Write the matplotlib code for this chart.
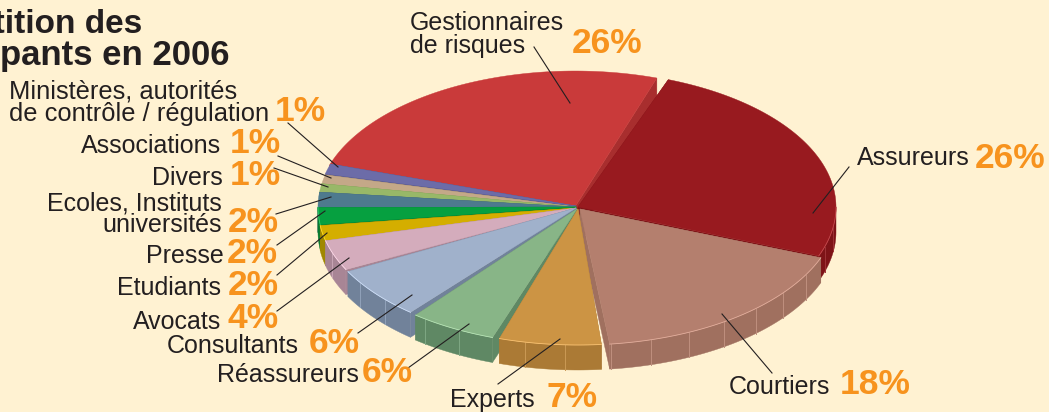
import numpy as np
import matplotlib
matplotlib.use("Agg")
import matplotlib.pyplot as plt
from matplotlib.patches import Polygon
from matplotlib.colors import to_rgb

plt.rcParams['font.family'] = ['Liberation Sans', 'DejaVu Sans']

categories = ["Assureurs", "Courtiers", "Experts", "Réassureurs", "Consultants", "Avocats",
              "Etudiants", "Presse", "Ecoles, Instituts universités", "Divers", "Associations",
              "Ministères, autorités de contrôle / régulation", "Gestionnaires de risques"]
printed_pct = [26, 18, 7, 6, 6, 4, 2, 2, 2, 1, 1, 1, 26]
wedge_shares = [25.4, 17.5, 6.75, 5.8, 6.6, 3.6, 1.8, 2.0, 1.8, 1.0, 1.05, 1.2, 25.4]
top_colors = ["#981A1F", "#B47F6E", "#CC9444", "#88B587", "#A0B1CB", "#D4ACBC", "#D4AE00",
              "#06A040", "#4E7A8E", "#98B868", "#C4A888", "#6C6CA8", "#C93A3A"]
side_colors = ["#7E1317", "#A0705F", "#AB7A35", "#5F8864", "#71829A", "#A88595", "#A08800",
               "#047A30", "#3C6070", "#7A9650", "#A08868", "#525288", "#A82E2E"]
offsets = [(0, 0), (2, 2), (0, 2), (-1, 2), (-2, 1), (-2, 1), (-2, 1), (-2, 0), (-2, 0),
           (-2, 0), (-2, 0), (-2, -1), (-3, 0)]
# angular inset of each wedge's (leading, trailing) edge: the gaps between the pieces
insets = [(1.0, 0), (0, 0.7), (0.7, 0.7), (0.7, 0.6), (0.6, 1.0), (0, 0), (0, 0), (0, 0), (0, 0),
          (0, 0), (0, 0), (0, 0), (0, 1.0)]

BG, INK, ORANGE = "#FFF2D2", "#231F20", "#F7931E"
CX, CY, RX, RY, DEPTH = 578, 207, 258, 136, 25
START = 70.5

fig = plt.figure(figsize=(10.49, 4.12), dpi=100, facecolor=BG)
ax = fig.add_axes([0, 0, 1, 1])
ax.set_xlim(0, 1049); ax.set_ylim(412, 0); ax.axis("off")

def pt(a, off, d=0):
    r = np.radians(a)
    return CX + off[0] + RX * np.cos(r), CY + off[1] - RY * np.sin(r) + d

def arc(a0, a1, off, d=0):
    n = max(2, int(abs(a1 - a0)) + 2)
    ang = np.linspace(a0, a1, n)
    return [pt(a, off, d) for a in ang]

spans = np.array(wedge_shares) / sum(wedge_shares) * 360
ends = START - np.cumsum(spans)
starts = ends + spans
mids = (starts + ends) / 2
order = np.argsort(-np.sin(np.radians(mids)))

for i in order:
    a0, a1, off = starts[i] - insets[i][0], ends[i] + insets[i][1], offsets[i]
    apex = (CX + off[0], CY + off[1])
    apex_d = (apex[0], apex[1] + DEPTH)
    side = side_colors[i]
    # radial cut faces
    for a in (a0, a1):
        e = pt(a, off); e_d = pt(a, off, DEPTH)
        ax.add_patch(Polygon([apex, e, e_d, apex_d], closed=True, fc=side, ec=side, lw=0.3, zorder=2))
    # outer wall: only the part that faces the viewer
    lo, hi = a1, a0
    ranges = []
    for k in (0, -360):
        l, h = max(lo, -180 + k), min(hi, 0 + k)
        if h > l:
            ranges.append((h, l))
    for h, l in ranges:
        wall = arc(h, l, off) + arc(l, h, off, DEPTH)
        ax.add_patch(Polygon(wall, closed=True, fc=side, ec=side, lw=0.3, zorder=2))
        rib_col = tuple(min(1, c + 0.12) for c in to_rgb(side))
        for a in np.arange(h - 8, l, -9):
            (x0, y0), (x1, y1) = pt(a, off), pt(a, off, DEPTH)
            ax.plot([x0, x1], [y0, y1], color=rib_col, lw=0.7, zorder=2)
    # top face
    top = [apex] + arc(a0, a1, off)
    ax.add_patch(Polygon(top, closed=True, fc=top_colors[i], ec=top_colors[i], lw=0.3, zorder=2))
    rim = tuple(min(1, c + 0.18) for c in to_rgb(top_colors[i]))
    for h, l in ranges:
        xy = np.array(arc(h, l, off))
        ax.plot(xy[:, 0], xy[:, 1], color=rim, lw=0.6, zorder=2)

# Title (its left part runs off the page in the source)
ax.text(142, 33, "Répartition des", ha="right", va="baseline", fontsize=24,
        fontweight="bold", color=INK, zorder=5)
ax.text(229, 65, "participants en 2006", ha="right", va="baseline", fontsize=25,
        fontweight="bold", color=INK, zorder=5)

LS, PS = 18, 25.5
def label(x, y, s, ha="left", size=LS, sp=1.2):
    ax.text(x, y, s, ha=ha, va="baseline", multialignment=ha, fontsize=size, color=INK,
            linespacing=sp, zorder=5)
def pct(x, y, v):
    ax.text(x, y, f"{v}%", ha="left", va="baseline", fontsize=PS, fontweight="bold",
            color=ORANGE, zorder=5)

label(410, 53, "Gestionnaires\nde risques", sp=0.94); pct(572, 53, printed_pct[12])
label(857, 165, "Assureurs"); pct(975, 168, printed_pct[0])
label(729, 394, "Courtiers"); pct(840, 394, printed_pct[1])
label(450, 407, "Experts"); pct(546, 407, printed_pct[2])
label(217, 382, "Réassureurs"); pct(362, 382, printed_pct[3])
label(167, 353, "Consultants"); pct(309, 353, printed_pct[4])
label(133, 329, "Avocats"); pct(228, 328, printed_pct[5])
label(117, 295, "Etudiants"); pct(228, 295, printed_pct[6])
label(146, 263, "Presse"); pct(227, 263, printed_pct[7])
label(222, 232, "Ecoles, Instituts\nuniversités", ha="right", sp=0.89); pct(228, 232, printed_pct[8])
label(152, 185, "Divers"); pct(230, 185, printed_pct[9])
label(81, 153, "Associations"); pct(230, 153, printed_pct[10])
label(9, 121, "Ministères, autorités\nde contrôle / régulation", size=18.4, sp=0.93)
pct(275, 121, printed_pct[11])

leaders = [((534, 47), (570, 103)), ((849, 167), (813, 213)), ((772, 373), (722, 314)),
           ((498, 384), (560, 339)), ((408, 368), (469, 324)), ((358, 333), (412, 295)),
           ((277, 311), (349, 258)), ((277, 275), (327, 233)), ((277, 245), (325, 211)),
           ((276, 214), (331, 197)), ((274, 168), (328, 187)), ((278, 156), (331, 178)),
           ((288, 123), (338, 167))]
for (x0, y0), (x1, y1) in leaders:
    ax.plot([x0, x1], [y0, y1], color=INK, lw=0.8, zorder=4)

fig.savefig("out.png", dpi=100, facecolor=BG)
